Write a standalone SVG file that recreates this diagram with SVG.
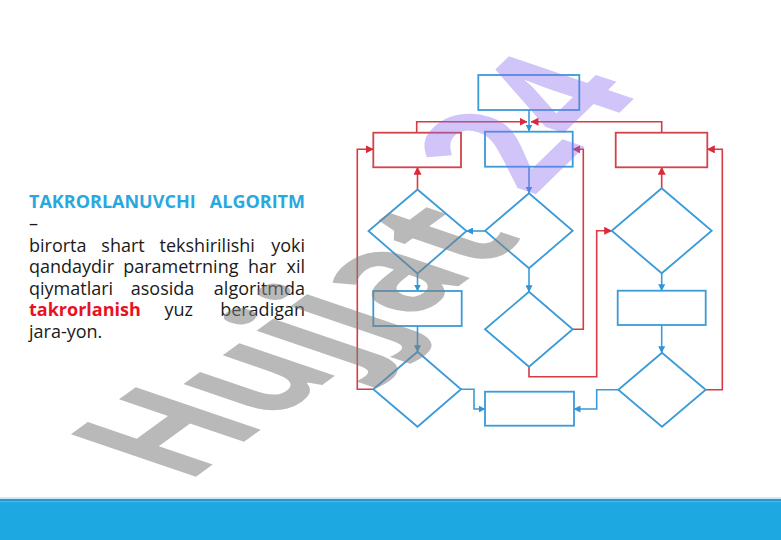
<svg xmlns="http://www.w3.org/2000/svg" width="781" height="540" viewBox="0 0 781 540">
<defs>
<style>
.bx{fill:#fff;stroke:#3a9bd8;stroke-width:1.8}
.rx{fill:#fff;stroke:#d4424a;stroke-width:1.8}
.bl{fill:none;stroke:#3a9bd8;stroke-width:1.6}
.rl{fill:none;stroke:#d63a43;stroke-width:1.6}
.t{font-family:"Open Sans","Noto Sans","DejaVu Sans",sans-serif;font-size:18px;fill:#1a1a1a}
.ttl{font-weight:bold;fill:#29a8e0}
.red{font-weight:bold;fill:#e8121f}
.wm{font-family:"Open Sans","DejaVu Sans",sans-serif;font-weight:bold;font-size:100px}
</style>
<marker id="ab" markerUnits="userSpaceOnUse" markerWidth="7" markerHeight="7" refX="6.5" refY="3.5" orient="auto"><path d="M0,0 L7,3.5 L0,7 z" fill="#2f95d4"/></marker>
<marker id="ar" markerUnits="userSpaceOnUse" markerWidth="8" markerHeight="8" refX="7.5" refY="4" orient="auto"><path d="M0,0 L8,4 L0,8 z" fill="#d92b3a"/></marker>
</defs>
<rect width="781" height="540" fill="#fff"/>

<g id="text" class="t">
<text y="207.5" class="ttl"><tspan x="29">TAKRORLANUVCHI</tspan><tspan x="305" text-anchor="end">ALGORITM</tspan></text>
<text x="29" y="229.5">–</text>
<text y="251.5"><tspan x="29">birorta</tspan><tspan x="123" text-anchor="middle">shart</tspan><tspan x="207.2" text-anchor="middle">tekshirilishi</tspan><tspan x="305" text-anchor="end">yoki</tspan></text>
<text y="273.2"><tspan x="29">qandaydir</tspan><tspan x="180.8" text-anchor="middle">parametrning</tspan><tspan x="262.2" text-anchor="middle">har</tspan><tspan x="305" text-anchor="end">xil</tspan></text>
<text y="294.8"><tspan x="29">qiymatlari</tspan><tspan x="162.5" text-anchor="middle">asosida</tspan><tspan x="305" text-anchor="end">algoritmda</tspan></text>
<text y="316.3"><tspan x="29" class="red">takrorlanish</tspan><tspan x="178.7" text-anchor="middle">yuz</tspan><tspan x="305" text-anchor="end">beradigan</tspan></text>
<text x="29" y="337.6">jara-yon.</text>
</g>

<g id="connectors">
<path class="bl" d="M529,110 V131" marker-end="url(#ab)"/>
<path class="bl" d="M529,166.7 V193" marker-end="url(#ab)"/>
<path class="bl" d="M485,231 H466.5" marker-end="url(#ab)"/>
<path class="bl" d="M417.5,273.5 V291" marker-end="url(#ab)"/>
<path class="bl" d="M529,268.5 V291.7" marker-end="url(#ab)"/>
<path class="bl" d="M661.7,273.3 V290.7" marker-end="url(#ab)"/>
<path class="bl" d="M417.5,326 V351.7" marker-end="url(#ab)"/>
<path class="bl" d="M661.7,325 V352.7" marker-end="url(#ab)"/>
<path class="bl" d="M461,389.2 H474 V409 H485" marker-end="url(#ab)"/>
<path class="bl" d="M618.3,389.7 H596.7 V409 H574" marker-end="url(#ab)"/>
<path class="rl" d="M416.7,132.7 V121.7 H527" marker-end="url(#ar)"/>
<path class="rl" d="M661.7,132.7 V121.7 H531" marker-end="url(#ar)"/>
<path class="rl" d="M417.5,189.5 V167.3" marker-end="url(#ar)"/>
<path class="rl" d="M661.7,188.3 V167.3" marker-end="url(#ar)"/>
<path class="rl" d="M373.3,389.2 H357.3 V149.3 H373.3" marker-end="url(#ar)"/>
<path class="rl" d="M705.7,389.7 H722.3 V149.3 H707.3" marker-end="url(#ar)"/>
<path class="rl" d="M572.7,329.2 H583.3 V149.3 H572.7" marker-end="url(#ar)"/>
<path class="rl" d="M529,366.7 V376.7 H596.7 V230.8 H611.7" marker-end="url(#ar)"/>
</g>

<g id="n-top"><rect class="bx" x="478.3" y="75" width="101" height="35"/></g>
<g id="n-box-left"><rect class="rx" x="373.3" y="132.7" width="87.7" height="34.6"/></g>
<g id="n-box-mid"><rect class="bx" x="485" y="131.7" width="87.7" height="35"/></g>
<g id="n-box-right"><rect class="rx" x="615.7" y="132.7" width="91.6" height="34.6"/></g>
<g id="n-dia-left1"><polygon class="bx" points="417.5,189.5 466.5,231 417.5,273.5 368.5,231"/></g>
<g id="n-dia-mid1"><polygon class="bx" points="529,193.3 572.7,230.8 529,268.3 485,230.8"/></g>
<g id="n-dia-right1"><polygon class="bx" points="661.7,188.3 711.7,230.8 661.7,273.3 611.7,230.8"/></g>
<g id="n-box-left2"><rect class="bx" x="373.3" y="291" width="88.4" height="35"/></g>
<g id="n-dia-mid2"><polygon class="bx" points="529,291.7 572.7,329.2 529,366.7 485,329.2"/></g>
<g id="n-box-right2"><rect class="bx" x="617.7" y="290.7" width="88" height="34.3"/></g>
<g id="n-dia-left2"><polygon class="bx" points="417.5,351.7 461,389.2 417.5,426.7 373.3,389.2"/></g>
<g id="n-box-bottom"><rect class="bx" x="485" y="391.7" width="89" height="34"/></g>
<g id="n-dia-right2"><polygon class="bx" points="662,352.7 705.7,389.7 662,426.7 618.3,389.7"/></g>

<g id="watermark">
<text class="wm" fill="#808080" fill-opacity="0.55" transform="matrix(1.108,-0.805,1.75,0.595,186,484)">Hujjat</text>
<text class="wm" fill="#8a6cf0" fill-opacity="0.4" transform="matrix(0.978,-0.952,1.75,0.595,532,198)">24</text>
</g>

<g id="footer">
<rect x="0" y="497" width="781" height="2" fill="#c8ecfa"/>
<rect x="0" y="499" width="781" height="2" fill="#2f93cf"/>
<rect x="0" y="501" width="781" height="39" fill="#1ea8e1"/>
<rect x="0" y="501" width="781" height="1.2" fill="#3cbdf0"/>
</g>
</svg>
